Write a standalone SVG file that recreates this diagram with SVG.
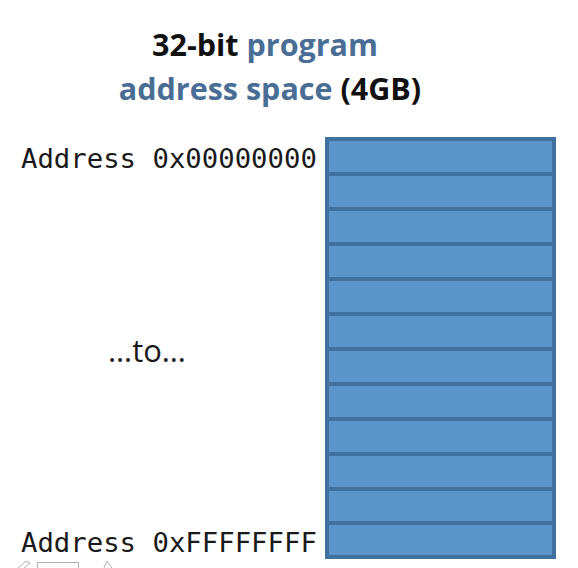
<svg xmlns="http://www.w3.org/2000/svg" width="578" height="568" viewBox="0 0 578 568">
<style>
.row{fill:#5c95ca;stroke:#41719f;stroke-width:4}
.mono{font-family:"DejaVu Sans Mono",monospace;font-size:27.3px;fill:#1a1a1a}
.title{font-family:"Open Sans",Lato,sans-serif;font-weight:bold;font-size:30.5px;text-anchor:middle}
.blk{fill:#111}
.blu{fill:#4a6d95}
</style>
<rect width="578" height="568" fill="#ffffff"/>
<g id="title">
<text class="title" x="265" y="56"><tspan class="blk">32-bit </tspan><tspan class="blu">program</tspan></text>
<text class="title" x="270" y="100"><tspan class="blu">address space </tspan><tspan class="blk">(4GB)</tspan></text>
</g>
<g id="memory">
<rect class="row" x="327" y="139" width="227" height="35"/>
<rect class="row" x="327" y="174" width="227" height="35"/>
<rect class="row" x="327" y="209" width="227" height="35"/>
<rect class="row" x="327" y="244" width="227" height="35"/>
<rect class="row" x="327" y="279" width="227" height="35"/>
<rect class="row" x="327" y="314" width="227" height="35"/>
<rect class="row" x="327" y="349" width="227" height="35"/>
<rect class="row" x="327" y="384" width="227" height="35"/>
<rect class="row" x="327" y="419" width="227" height="35"/>
<rect class="row" x="327" y="454" width="227" height="35"/>
<rect class="row" x="327" y="489" width="227" height="34"/>
<rect class="row" x="327" y="523" width="227" height="34"/>
</g>
<g id="labels">
<text class="mono" x="21" y="168">Address 0x00000000</text>
<text x="147" y="362" text-anchor="middle" font-family="'Open Sans',Lato,sans-serif" font-size="31" fill="#1a1a1a">…to…</text>
<text class="mono" x="21" y="552">Address 0xFFFFFFFF</text>
</g>
<g id="ui" fill="none" stroke="#b0b0b0" stroke-width="1">
<path d="M18 568 L26 561 L30 563 L24 568"/>
<rect x="37.5" y="562.5" width="41" height="8"/>
<path d="M104 568 L107 561 L112 568"/>
</g>
</svg>
